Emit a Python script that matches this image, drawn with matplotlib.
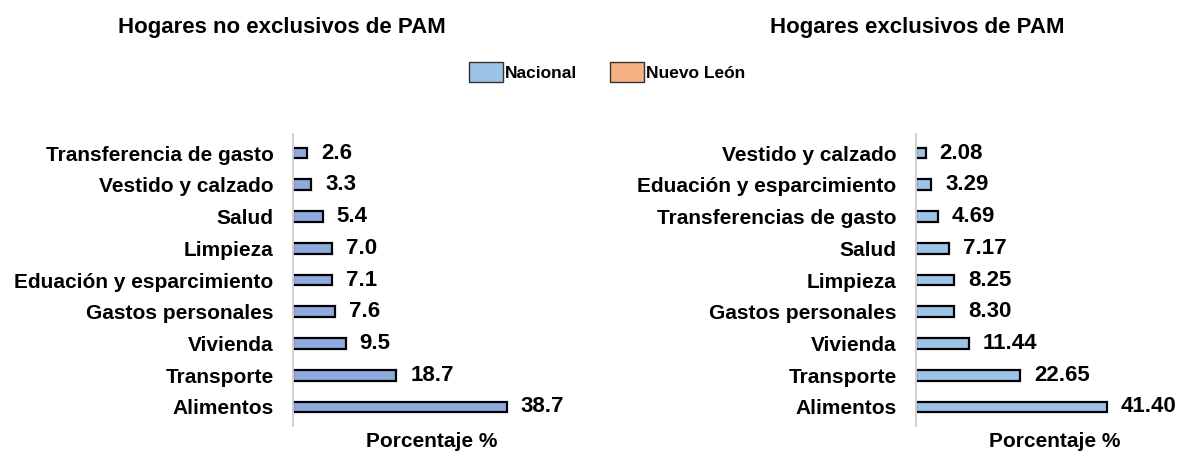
import matplotlib
matplotlib.use("Agg")
import matplotlib.pyplot as plt
from matplotlib.patches import Patch

plt.rcParams['font.family'] = ['Liberation Sans', 'DejaVu Sans']

left_title = "Hogares no exclusivos de PAM"
left_cats = ["Alimentos", "Transporte", "Vivienda", "Gastos personales",
             "Eduación y esparcimiento", "Limpieza", "Salud",
             "Vestido y calzado", "Transferencia de gasto"]
left_vals = [38.7, 18.7, 9.5, 7.6, 7.1, 7.0, 5.4, 3.3, 2.6]
left_labels = ["38.7", "18.7", "9.5", "7.6", "7.1", "7.0", "5.4", "3.3", "2.6"]

right_title = "Hogares exclusivos de PAM"
right_cats = ["Alimentos", "Transporte", "Vivienda", "Gastos personales",
              "Limpieza", "Salud", "Transferencias de gasto",
              "Eduación y esparcimiento", "Vestido y calzado"]
right_vals = [41.40, 22.65, 11.44, 8.30, 8.25, 7.17, 4.69, 3.29, 2.08]
right_labels = ["41.40", "22.65", "11.44", "8.30", "8.25", "7.17", "4.69", "3.29", "2.08"]

legend_labels = ["Nacional", "Nuevo León"]
legend_colors = ["#9DC3E6", "#F4B183"]

W, H = 1183, 451
fig = plt.figure(figsize=(W / 100, H / 100), dpi=100)

def px_axes(x0, y0, w, h):
    return fig.add_axes([x0 / W, 1 - (y0 + h) / H, w / W, h / H])

def draw(ax, cats, vals, labels, color, xmax):
    y = list(range(len(cats)))
    ax.barh(y, vals, height=0.34, color=color, edgecolor="black", linewidth=1.6)
    for yi, v, lab in zip(y, vals, labels):
        ax.text(v + xmax * 0.05, yi, lab, va="center", ha="left",
                fontsize=16, fontweight="bold")
    ax.set_yticks(y)
    ax.set_yticklabels(cats, fontsize=15, fontweight="bold")
    ax.tick_params(axis="y", length=0, pad=14)
    ax.set_xticks([])
    ax.set_xlim(0, xmax)
    ax.set_ylim(-0.6, 8.6)
    for s in ["top", "right", "bottom"]:
        ax.spines[s].set_visible(False)
    ax.spines["left"].set_color("#D0D0D0")
    ax.spines["left"].set_linewidth(1.4)
    ax.set_xlabel("Porcentaje %", fontsize=15, fontweight="bold", labelpad=4)

ax1 = px_axes(293, 134, 278, 292)
draw(ax1, left_cats, left_vals, left_labels, "#8FAADC", 50.3)
ax2 = px_axes(916, 134, 278, 292)
draw(ax2, right_cats, right_vals, right_labels, "#9DC3E6", 60.3)

fig.text(282 / W, 1 - 27 / H, left_title, ha="center", va="center",
         fontsize=16, fontweight="bold")
fig.text(917 / W, 1 - 27 / H, right_title, ha="center", va="center",
         fontsize=16, fontweight="bold")

handles = [Patch(facecolor=c, edgecolor="#333333", linewidth=1) for c in legend_colors]
leg = fig.legend(handles, legend_labels, loc="center", bbox_to_anchor=(607 / W, 1 - 72 / H),
                 ncol=2, frameon=False, prop={"weight": "bold", "size": 12.5},
                 handlelength=1.95, handleheight=1.4, handletextpad=0.1, columnspacing=1.9)

fig.savefig("out.png", dpi=100)
